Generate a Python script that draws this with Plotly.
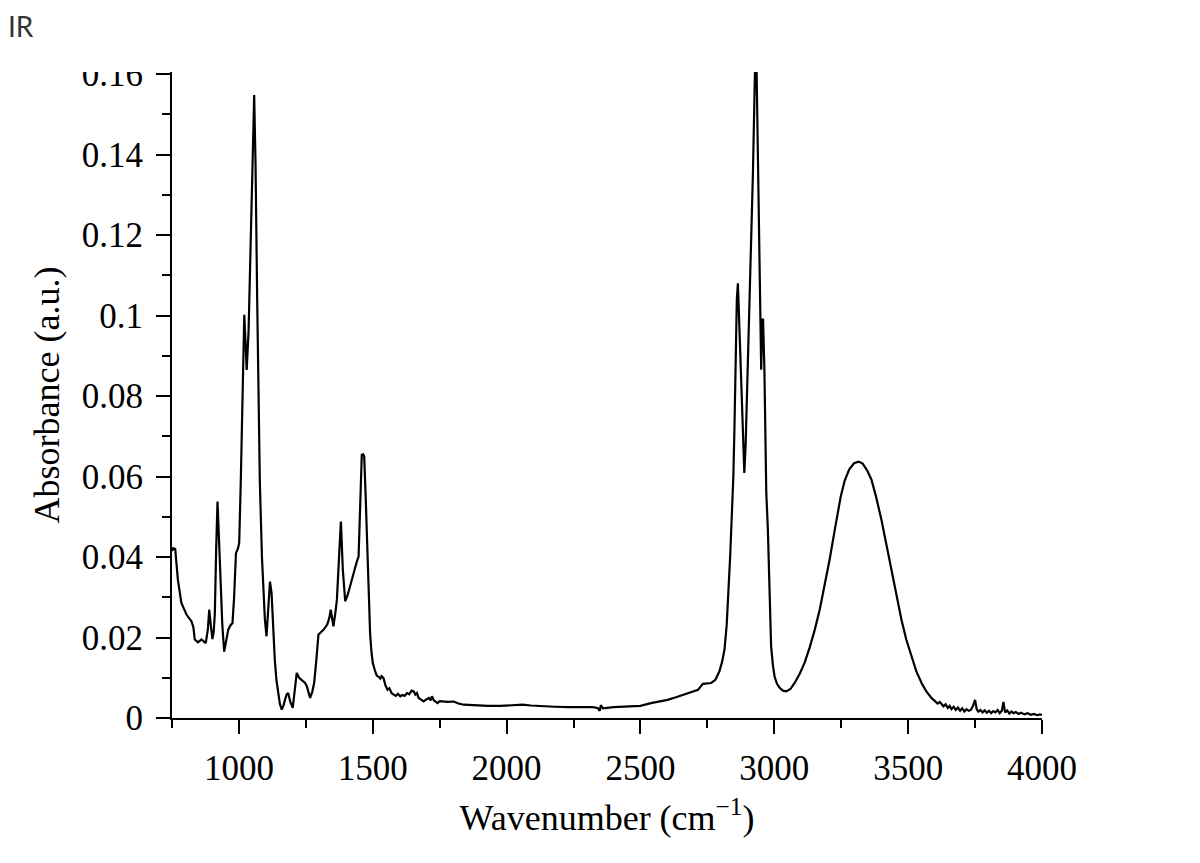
import plotly.graph_objects as go

wavenumber = [
    750, 755, 762, 772, 785, 804, 823, 830, 835, 847, 860, 868, 876, 884, 889, 895, 901, 906, 910, 915,
    920, 924, 931, 938, 945, 952, 960, 968, 976, 982, 989, 996, 1001, 1007, 1013, 1020, 1025, 1029, 1036, 1044,
    1050, 1057, 1062, 1068, 1073, 1078, 1086, 1092, 1097, 1103, 1109, 1116, 1122, 1128, 1134, 1140, 1147, 1153, 1160, 1166,
    1172, 1178, 1184, 1192, 1201, 1208, 1216, 1225, 1235, 1247, 1253, 1260, 1266, 1274, 1281, 1290, 1297, 1306, 1316, 1330,
    1338, 1343, 1348, 1353, 1360, 1366, 1374, 1381, 1388, 1397, 1406, 1415, 1424, 1434, 1441, 1447, 1453, 1459, 1464, 1468,
    1473, 1478, 1484, 1490, 1495, 1500, 1508, 1515, 1521, 1528, 1533, 1540, 1548, 1555, 1562, 1570, 1578, 1586, 1594, 1603,
    1611, 1619, 1628, 1636, 1645, 1653, 1659, 1665, 1671, 1680, 1690, 1700, 1710, 1716, 1721, 1728, 1735, 1742, 1750, 1765,
    1780, 1802, 1820, 1840, 1865, 1890, 1930, 1977, 2000, 2030, 2060, 2090, 2130, 2180, 2230, 2280, 2320, 2340, 2348, 2352,
    2360, 2400, 2450, 2500, 2539, 2570, 2601, 2630, 2664, 2701, 2715, 2733, 2750, 2764, 2780, 2795, 2805, 2814, 2822, 2828,
    2835, 2841, 2847, 2851, 2856, 2860, 2864, 2868, 2873, 2878, 2883, 2888, 2893, 2900, 2907, 2913, 2920, 2926, 2930, 2934,
    2939, 2945, 2951, 2955, 2958, 2963, 2967, 2970, 2976, 2982, 2988, 2995, 3001, 3010, 3020, 3032, 3045, 3060, 3076, 3095,
    3113, 3132, 3151, 3170, 3188, 3207, 3226, 3248, 3263, 3280, 3298, 3315, 3330, 3347, 3363, 3380, 3400, 3420, 3438, 3457,
    3475, 3493, 3512, 3530, 3550, 3568, 3587, 3600, 3610, 3618, 3625, 3632, 3640, 3648, 3655, 3662, 3670, 3678, 3686, 3694,
    3702, 3710, 3718, 3726, 3734, 3742, 3750, 3756, 3762, 3770, 3778, 3786, 3794, 3802, 3810, 3818, 3826, 3834, 3842, 3850,
    3856, 3862, 3870, 3878, 3886, 3894, 3902, 3912, 3922, 3934, 3946, 3958, 3970, 3982, 3992, 4000,
]

absorbance = [
    0.0415, 0.0422, 0.0420, 0.0343, 0.0286, 0.0257, 0.0240, 0.0225, 0.0195, 0.0188, 0.0195, 0.0190, 0.0186, 0.0220, 0.0269, 0.0230, 0.0196, 0.0215, 0.0260, 0.0420,
    0.0538, 0.0470, 0.0343, 0.0230, 0.0165, 0.0190, 0.0219, 0.0230, 0.0236, 0.0300, 0.0410, 0.0420, 0.0435, 0.0590, 0.0800, 0.1002, 0.0930, 0.0865, 0.0960, 0.1150,
    0.1350, 0.1548, 0.1380, 0.1050, 0.0800, 0.0590, 0.0400, 0.0300, 0.0245, 0.0203, 0.0260, 0.0339, 0.0310, 0.0220, 0.0145, 0.0095, 0.0062, 0.0035, 0.0021, 0.0030,
    0.0045, 0.0058, 0.0062, 0.0040, 0.0025, 0.0060, 0.0112, 0.0100, 0.0095, 0.0087, 0.0080, 0.0065, 0.0050, 0.0065, 0.0087, 0.0150, 0.0207, 0.0213, 0.0219, 0.0232,
    0.0250, 0.0269, 0.0245, 0.0228, 0.0260, 0.0294, 0.0400, 0.0488, 0.0370, 0.0290, 0.0305, 0.0327, 0.0350, 0.0377, 0.0390, 0.0401, 0.0520, 0.0654, 0.0655, 0.0650,
    0.0560, 0.0460, 0.0320, 0.0211, 0.0165, 0.0137, 0.0118, 0.0105, 0.0103, 0.0098, 0.0104, 0.0099, 0.0080, 0.0070, 0.0074, 0.0062, 0.0058, 0.0055, 0.0060, 0.0054,
    0.0057, 0.0055, 0.0062, 0.0059, 0.0068, 0.0066, 0.0058, 0.0062, 0.0050, 0.0046, 0.0041, 0.0046, 0.0050, 0.0044, 0.0054, 0.0044, 0.0041, 0.0037, 0.0042, 0.0041,
    0.0040, 0.0041, 0.0036, 0.0033, 0.0032, 0.0030, 0.0030, 0.0030, 0.0031, 0.0032, 0.0033, 0.0031, 0.0029, 0.0028, 0.0027, 0.0027, 0.0027, 0.0025, 0.0018, 0.0032,
    0.0024, 0.0027, 0.0028, 0.0030, 0.0037, 0.0041, 0.0045, 0.0051, 0.0058, 0.0066, 0.0070, 0.0085, 0.0087, 0.0087, 0.0095, 0.0116, 0.0140, 0.0170, 0.0230, 0.0300,
    0.0400, 0.0500, 0.0600, 0.0716, 0.0900, 0.1040, 0.1080, 0.1000, 0.0915, 0.0850, 0.0700, 0.0609, 0.0680, 0.0850, 0.1000, 0.1138, 0.1350, 0.1550, 0.1680, 0.1600,
    0.1380, 0.1138, 0.0865, 0.0990, 0.0990, 0.0865, 0.0650, 0.0560, 0.0468, 0.0302, 0.0178, 0.0130, 0.0103, 0.0085, 0.0075, 0.0068, 0.0066, 0.0072, 0.0087, 0.0110,
    0.0137, 0.0175, 0.0219, 0.0270, 0.0327, 0.0395, 0.0468, 0.0550, 0.0590, 0.0618, 0.0633, 0.0637, 0.0632, 0.0615, 0.0592, 0.0550, 0.0493, 0.0425, 0.0360, 0.0300,
    0.0244, 0.0195, 0.0153, 0.0117, 0.0087, 0.0066, 0.0050, 0.0042, 0.0036, 0.0040, 0.0033, 0.0029, 0.0034, 0.0025, 0.0030, 0.0022, 0.0028, 0.0020, 0.0026, 0.0018,
    0.0024, 0.0016, 0.0022, 0.0018, 0.0020, 0.0030, 0.0045, 0.0022, 0.0016, 0.0020, 0.0014, 0.0019, 0.0013, 0.0018, 0.0012, 0.0017, 0.0014, 0.0020, 0.0012, 0.0018,
    0.0040, 0.0014, 0.0019, 0.0011, 0.0016, 0.0012, 0.0015, 0.0010, 0.0013, 0.0009, 0.0012, 0.0008, 0.0010, 0.0007, 0.0009, 0.0008,
]

x_tickvals = [1000, 1500, 2000, 2500, 3000, 3500, 4000]
x_ticktext = ["1000", "1500", "2000", "2500", "3000", "3500", "4000"]
y_tickvals = [0, 0.02, 0.04, 0.06, 0.08, 0.10, 0.12, 0.14, 0.16]
y_ticktext = ["0", "0.02", "0.04", "0.06", "0.08", "0.1", "0.12", "0.14", "0.16"]

SERIF = "Liberation Serif"

fig = go.Figure()
fig.add_trace(go.Scatter(
    x=wavenumber, y=absorbance, mode="lines",
    line=dict(color="black", width=2.2),
    showlegend=False, hoverinfo="skip",
))

fig.update_layout(
    width=1200, height=863,
    margin=dict(l=172, r=158, t=72, b=145),
    paper_bgcolor="white", plot_bgcolor="white",
    title=dict(text="IR", x=0.0067, xref="container", xanchor="left",
               y=1 - 27 / 863, yref="container", yanchor="middle",
               font=dict(family="Lato", size=28, color="#333333")),
    xaxis=dict(
        range=[750, 4000], showgrid=False, zeroline=False,
        showline=True, linecolor="black", linewidth=2,
        tickmode="array", tickvals=x_tickvals, ticktext=x_ticktext,
        ticks="outside", ticklen=14, tickwidth=2, tickcolor="black",
        ticklabelstandoff=4,
        minor=dict(dtick=250, tick0=0, ticks="outside", ticklen=8, tickwidth=2, tickcolor="black", showgrid=False),
        tickfont=dict(family=SERIF, size=35, color="black"),
        title=dict(text="Wavenumber (cm<sup>−1</sup>)", standoff=18,
                   font=dict(family=SERIF, size=36, color="black")),
    ),
    yaxis=dict(
        range=[0, 0.1605], showgrid=False, zeroline=False,
        showline=True, linecolor="black", linewidth=2,
        tickmode="array", tickvals=y_tickvals, ticktext=y_ticktext,
        ticks="outside", ticklen=14, tickwidth=2, tickcolor="black",
        ticklabelstandoff=6,
        minor=dict(dtick=0.01, tick0=0, ticks="outside", ticklen=8, tickwidth=2, tickcolor="black", showgrid=False),
        tickfont=dict(family=SERIF, size=35, color="black"),
        title=dict(text="Absorbance (a.u.)", standoff=11,
                   font=dict(family=SERIF, size=36, color="black")),
    ),
    shapes=[dict(type="rect", xref="paper", yref="paper",
                 x0=-0.2, x1=-0.003, y0=1.0, y1=1 + 20 / 646,
                 fillcolor="white", line=dict(width=0), layer="above")],
)

fig.write_html("out.html")
